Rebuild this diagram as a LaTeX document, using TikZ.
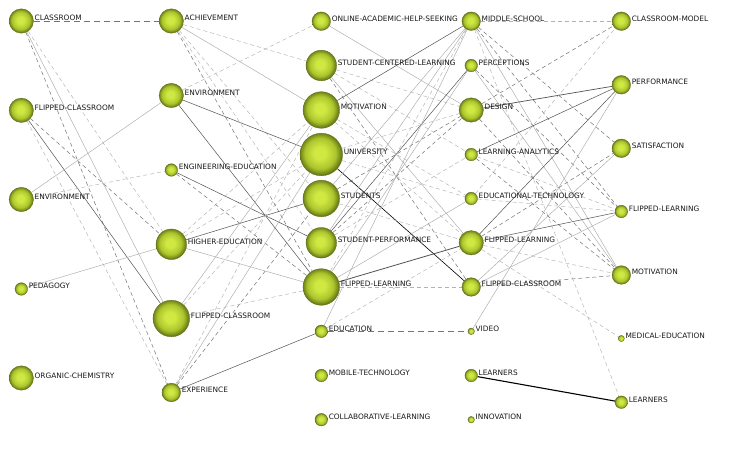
\documentclass[tikz,border=0pt]{standalone}
\usepackage{fontspec}
\setmainfont{DejaVu Sans}
\pgfdeclarelayer{bg}
\pgfsetlayers{bg,main}
\definecolor{ballin}{RGB}{208,232,66}
\definecolor{ballmid}{RGB}{172,197,45}
\definecolor{ballout}{RGB}{100,120,20}
\definecolor{balledge}{RGB}{90,106,22}
\pgfdeclareradialshading{greenball}{\pgfpoint{-2bp}{2bp}}{color(0bp)=(ballin); color(7bp)=(ballin); color(18bp)=(ballmid); color(25bp)=(ballout); color(50bp)=(ballout)}
\tikzset{
  ball/.style={circle, inner sep=0pt, shade, shading=greenball, draw=balledge, line width=0.3pt},
  lbl/.style={font=\fontsize{7.4}{8}\selectfont, inner sep=0pt, anchor=base west, xshift=0.8pt, text=black!90},
  sl/.style={draw=black!33, line width=0.45pt},
  sd/.style={draw=black!68, line width=0.5pt},
  sk/.style={draw=black, line width=0.6pt},
  skk/.style={draw=black, line width=1.1pt},
  dl/.style={draw=black!30, line width=0.45pt, dash pattern=on 4pt off 3pt},
  dd/.style={draw=black!55, line width=0.5pt, dash pattern=on 4pt off 3pt},
}
\newcommand\ballnode[5]{\node[ball, minimum size=#4pt, label={[lbl]east:#5}] (#1) at (#2,#3) {};}
\begin{document}
\begin{tikzpicture}[x=1pt,y=-1pt]
\begin{pgfonlayer}{bg}
\fill[white] (0,0) rectangle (750,449);
\end{pgfonlayer}
\useasboundingbox (0,0) rectangle (750,449);
% column 1
\ballnode{a1}{21.3}{21}{24.4}{CLASSROOM}
\ballnode{a2}{21.3}{110.3}{24.4}{FLIPPED-CLASSROOM}
\ballnode{a3}{21.3}{199.5}{24.4}{ENVIRONMENT}
\ballnode{a4}{21.3}{289}{12.6}{PEDAGOGY}
\ballnode{a5}{21.3}{378}{24.4}{ORGANIC-CHEMISTRY}
% column 2
\ballnode{b1}{171.3}{21}{24.4}{ACHIEVEMENT}
\ballnode{b2}{171.3}{95.5}{24.4}{ENVIRONMENT}
\ballnode{b3}{171.3}{170}{12.6}{ENGINEERING-EDUCATION}
\ballnode{b4}{171.3}{244.3}{30.6}{HIGHER-EDUCATION}
\ballnode{b5}{171.3}{318.5}{36.6}{FLIPPED-CLASSROOM}
\ballnode{b6}{171.3}{392.5}{18.6}{EXPERIENCE}
% column 3
\ballnode{c1}{321.3}{21.2}{18.6}{ONLINE-ACADEMIC-HELP-SEEKING}
\ballnode{c2}{321.3}{65.5}{30.6}{STUDENT-CENTERED-LEARNING}
\ballnode{c3}{321.3}{110}{36.6}{MOTIVATION}
\ballnode{c4}{321.3}{154.5}{42.6}{UNIVERSITY}
\ballnode{c5}{321.3}{198.5}{36.6}{STUDENTS}
\ballnode{c6}{321.3}{242.8}{30.6}{STUDENT-PERFORMANCE}
\ballnode{c7}{321.3}{287}{36.6}{FLIPPED-LEARNING}
\ballnode{c8}{321.3}{331.3}{12.6}{EDUCATION}
\ballnode{c9}{321.3}{375.5}{12.6}{MOBILE-TECHNOLOGY}
\ballnode{c10}{321.3}{419.7}{12.6}{COLLABORATIVE-LEARNING}
% column 4
\ballnode{d1}{471.2}{21.2}{18.6}{MIDDLE-SCHOOL}
\ballnode{d2}{471.2}{65.5}{12.6}{PERCEPTIONS}
\ballnode{d3}{471.2}{110}{24.4}{DESIGN}
\ballnode{d4}{471.2}{154.5}{12.6}{LEARNING-ANALYTICS}
\ballnode{d5}{471.2}{198.5}{12.6}{EDUCATIONAL-TECHNOLOGY}
\ballnode{d6}{471.2}{242.8}{24.4}{FLIPPED-LEARNING}
\ballnode{d7}{471.2}{287}{18.6}{FLIPPED-CLASSROOM}
\ballnode{d8}{471.2}{331.3}{6.6}{VIDEO}
\ballnode{d9}{471.2}{375.5}{12.6}{LEARNERS}
\ballnode{d10}{471.2}{419.7}{6.6}{INNOVATION}
% column 5
\ballnode{e1}{621.3}{21.2}{18.6}{CLASSROOM-MODEL}
\ballnode{e2}{621.3}{84.8}{18.6}{PERFORMANCE}
\ballnode{e3}{621.3}{148.3}{18.6}{SATISFACTION}
\ballnode{e4}{621.3}{211.5}{12.6}{FLIPPED-LEARNING}
\ballnode{e5}{621.3}{275}{18.6}{MOTIVATION}
\ballnode{e6}{621.3}{338.5}{6.2}{MEDICAL-EDUCATION}
\ballnode{e7}{621.3}{402.2}{12.6}{LEARNERS}
\begin{pgfonlayer}{bg}
% band 1
\draw[dd, dash pattern=on 6pt off 4pt] (a1) -- (b1);
\draw[dl] (a1) -- (b4);
\draw[sl] (a1) -- (b5);
\draw[dd] (a1) -- (b6);
\draw[sd] (a2) -- (b5);
\draw[dd] (a2) -- (b4);
\draw[dl] (a2) -- (b6);
\draw[sl] (a3) -- (b2);
\draw[dl] (a3) -- (b3);
\draw[sl] (a4) -- (b4);
% band 2
\draw[dl] (b1) -- (c2);
\draw[sl] (b1) -- (c3);
\draw[dl] (b1) -- (c5);
\draw[dl] (b1) -- (c6);
\draw[dd] (b1) -- (c7);
\draw[dl] (b2) -- (c1);
\draw[sd] (b2) -- (c4);
\draw[sd] (b2) -- (c7);
\draw[sd] (b3) -- (c6);
\draw[dd] (b3) -- (c7);
\draw[sd] (b4) -- (c5);
\draw[sl] (b4) -- (c7);
\draw[dl] (b4) -- (c3);
\draw[dl] (b4) -- (c4);
\draw[sl] (b5) -- (c3);
\draw[dl] (b5) -- (c4);
\draw[dl] (b5) -- (c7);
\draw[sd] (b6) -- (c8);
\draw[sl] (b6) -- (c4);
\draw[dd] (b6) -- (c5);
\draw[dl] (b6) -- (c3);
% band 3
\draw[sl] (c1) -- (d3);
\draw[dl] (c2) -- (d3);
\draw[dl] (c2) -- (d4);
\draw[sl] (c2) -- (d6);
\draw[dd] (c2) -- (d7);
\draw[sd] (c3) -- (d1);
\draw[dl] (c3) -- (d5);
\draw[dl] (c3) -- (d6);
\draw[sk] (c4) -- (d7);
\draw[dl] (c4) -- (d3);
\draw[dl] (c4) -- (d5);
\draw[dd] (c5) -- (d3);
\draw[dl] (c5) -- (d6);
\draw[sl] (c5) -- (d1);
\draw[sl] (c6) -- (d1);
\draw[sd] (c6) -- (d2);
\draw[dd] (c6) -- (d3);
\draw[dl] (c6) -- (d4);
\draw[sd, line width=0.8pt] (c7) -- (d6);
\draw[dl] (c7) -- (d7);
\draw[sl] (c7) -- (d2);
\draw[sl] (c7) -- (d5);
\draw[dl] (c7) -- (d1);
\draw[dd, dash pattern=on 6pt off 4pt] (c8) -- (d8);
\draw[sl] (c8) -- (d1);
\draw[dl] (c8) -- (d6);
% band 4
\draw[dl] (d1) -- (e1);
\draw[dd] (d1) -- (e3);
\draw[sl] (d1) -- (e5);
\draw[dl] (d1) -- (e7);
\draw[dd] (d1) -- (e4);
\draw[sl] (d2) -- (e5);
\draw[dd] (d2) -- (e4);
\draw[sd, line width=0.7pt] (d3) -- (e2);
\draw[dd] (d3) -- (e1);
\draw[dd] (d3) -- (e5);
\draw[sd] (d4) -- (e2);
\draw[dl] (d4) -- (e4);
\draw[dd] (d4) -- (e5);
\draw[dl] (d5) -- (e4);
\draw[dl] (d5) -- (e1);
\draw[sd] (d6) -- (e2);
\draw[sd] (d6) -- (e4);
\draw[dd] (d6) -- (e3);
\draw[dl] (d6) -- (e5);
\draw[dl] (d6) -- (e6);
\draw[dd] (d7) -- (e5);
\draw[sl] (d7) -- (e3);
\draw[sl] (d7) -- (e4);
\draw[sl] (d8) -- (e2);
\draw[skk] (d9) -- (e7);
\end{pgfonlayer}
\end{tikzpicture}
\end{document}
